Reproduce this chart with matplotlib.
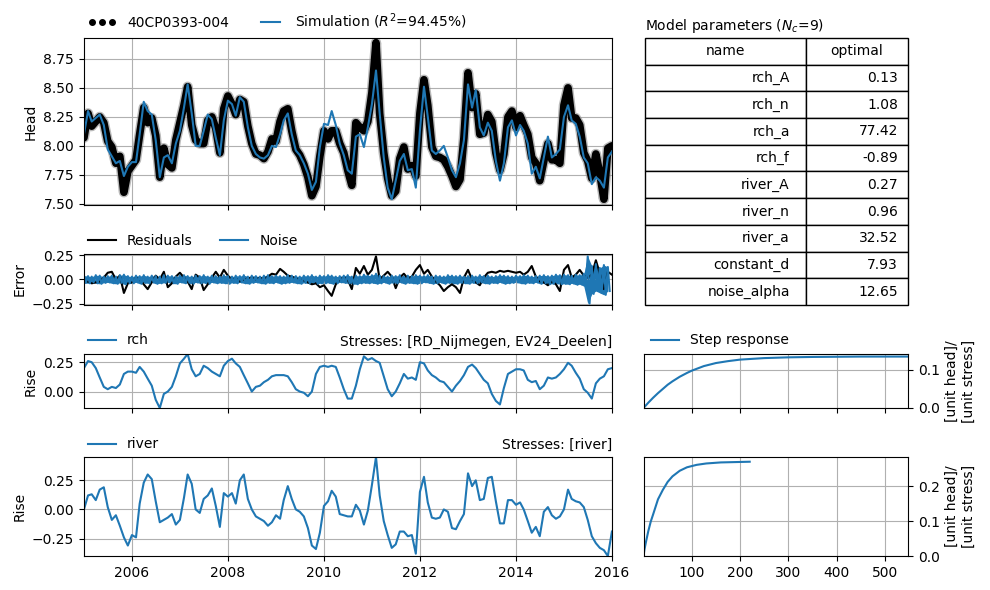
import numpy as np
import pandas as pd
import matplotlib
matplotlib.use("Agg")
import matplotlib.pyplot as plt
import matplotlib.dates as mdates
import matplotlib.patheffects as pe
from matplotlib.lines import Line2D
from matplotlib.ticker import MultipleLocator

plt.rcParams["font.size"] = 10

# -------------------------
# data (monthly)
# -------------------------
months = pd.date_range("2005-01-01", "2016-01-01", freq="MS")
half_months = pd.date_range("2005-01-01", "2015-12-15", freq="SMS")

head_sim = [
    8.10, 8.30, 8.21, 8.24, 8.27, 8.18, 7.97, 7.91, 7.85, 7.87, 7.74, 7.82,
    7.86, 7.86, 8.10, 8.38, 8.30, 8.27, 8.05, 7.73, 7.90, 7.92, 7.85, 8.02,
    8.13, 8.33, 8.53, 8.28, 8.00, 8.00, 8.13, 8.27, 8.23, 8.07, 7.92, 8.22,
    8.39, 8.36, 8.26, 8.42, 8.38, 8.16, 8.00, 7.93, 7.90, 7.89, 7.92, 8.00,
    7.99, 8.10, 8.22, 8.28, 8.10, 7.96, 7.92, 7.85, 7.76, 7.62, 7.69, 7.99,
    8.19, 8.18, 8.30, 8.18, 8.02, 7.92, 7.79, 7.76, 8.08, 8.10, 7.99, 8.16,
    8.36, 8.65, 8.28, 7.90, 7.64, 7.54, 7.70, 7.87, 7.93, 7.79, 7.80, 7.64,
    8.13, 8.51, 8.25, 7.96, 7.93, 7.96, 8.00, 7.90, 7.79, 7.73, 7.85, 8.05,
    8.53, 8.33, 8.48, 8.16, 8.09, 8.20, 8.13, 7.87, 7.70, 7.85, 8.16, 8.22,
    8.09, 8.18, 8.13, 8.02, 7.76, 7.82, 7.72, 7.90, 8.08, 7.90, 7.93, 7.97,
    8.25, 8.35, 8.22, 8.19, 8.08, 7.90, 7.85, 7.67, 7.73, 7.70, 7.64, 7.90,
    7.95,
]

head_obs = [
    8.07, 8.28, 8.17, 8.21, 8.25, 8.20, 8.04, 7.99, 7.85, 7.91, 7.60, 7.78,
    7.83, 7.88, 8.10, 8.33, 8.20, 8.24, 8.09, 7.73, 7.98, 7.84, 7.81, 8.05,
    8.20, 8.35, 8.51, 8.18, 8.05, 8.02, 8.02, 8.22, 8.25, 8.15, 7.94, 8.32,
    8.43, 8.36, 8.27, 8.40, 8.38, 8.17, 8.02, 7.93, 7.92, 7.89, 7.95, 8.06,
    8.04, 8.21, 8.30, 8.32, 8.13, 7.97, 7.92, 7.84, 7.73, 7.57, 7.65, 7.91,
    8.13, 8.06, 8.13, 8.13, 8.02, 7.94, 7.79, 7.66, 8.20, 8.16, 8.13, 8.21,
    8.46, 8.89, 8.28, 7.94, 7.72, 7.57, 7.61, 7.89, 7.99, 7.80, 7.83, 7.74,
    8.28, 8.57, 8.35, 7.99, 7.91, 7.90, 7.88, 7.82, 7.74, 7.65, 7.71, 8.07,
    8.63, 8.33, 8.45, 8.10, 8.11, 8.27, 8.21, 7.94, 7.79, 7.93, 8.25, 8.30,
    8.16, 8.26, 8.18, 8.10, 7.90, 7.85, 7.70, 7.87, 8.02, 7.88, 7.88, 7.85,
    8.35, 8.50, 8.24, 8.24, 8.18, 7.94, 7.87, 7.72, 7.93, 7.76, 7.54, 7.98,
    8.00,
]

# upper / lower swing of the noise series, per month
noise_hi = [
    .04, .035, .03, .045, .04, .03, .035, .04, .03, .045, .05, .035,
    .03, .04, .035, .045, .03, .04, .035, .03, .045, .04, .035, .03,
    .04, .045, .035, .03, .04, .035, .045, .03, .04, .035, .03, .045,
    .035, .03, .04, .035, .045, .03, .04, .035, .03, .04, .045, .035,
    .04, .035, .03, .045, .04, .035, .03, .04, .035, .045, .03, .04,
    .035, .045, .04, .03, .035, .04, .045, .03, .04, .035, .05, .04,
    .045, .06, .04, .035, .03, .04, .035, .045, .03, .04, .035, .045,
    .04, .035, .045, .03, .04, .035, .03, .045, .04, .035, .04, .03,
    .035, .04, .03, .045, .035, .04, .03, .035, .045, .04, .035, .03,
    .04, .035, .045, .04, .03, .035, .04, .045, .035, .04, .05, .045,
    .05, .045, .04, .05, .045, .06, .24, .14, .16, .12, .15, .13,
]
noise_lo = [
    -.035, -.04, -.03, -.04, -.045, -.035, -.03, -.04, -.045, -.035, -.05, -.04,
    -.04, -.03, -.045, -.035, -.04, -.03, -.045, -.04, -.035, -.03, -.04, -.045,
    -.03, -.04, -.035, -.045, -.03, -.04, -.035, -.045, -.03, -.04, -.035, -.04,
    -.045, -.035, -.04, -.03, -.04, -.045, -.035, -.03, -.04, -.045, -.035, -.04,
    -.03, -.045, -.04, -.035, -.03, -.04, -.045, -.035, -.04, -.03, -.045, -.04,
    -.04, -.035, -.045, -.04, -.03, -.035, -.04, -.045, -.05, -.04, -.035, -.04,
    -.035, -.045, -.04, -.03, -.045, -.035, -.04, -.03, -.045, -.035, -.04, -.045,
    -.04, -.03, -.035, -.045, -.04, -.03, -.045, -.035, -.04, -.045, -.035, -.04,
    -.045, -.035, -.04, -.03, -.04, -.045, -.035, -.04, -.03, -.045, -.04, -.035,
    -.03, -.04, -.045, -.035, -.04, -.03, -.045, -.04, -.05, -.045, -.04, -.05,
    -.045, -.05, -.04, -.055, -.05, -.07, -.25, -.15, -.12, -.14, -.16, -.12,
]

rch = [
    0.20, 0.26, 0.25, 0.20, 0.12, 0.04, 0.02, 0.04, 0.03, 0.06, 0.15, 0.17,
    0.17, 0.16, 0.21, 0.17, 0.11, 0.05, -0.07, -0.14, -0.02, 0.00, 0.04, 0.13,
    0.24, 0.28, 0.32, 0.19, 0.13, 0.15, 0.22, 0.20, 0.17, 0.15, 0.13, 0.22,
    0.26, 0.28, 0.24, 0.21, 0.14, 0.07, 0.00, 0.04, 0.05, 0.08, 0.10, 0.13,
    0.14, 0.14, 0.14, 0.13, 0.08, 0.02, 0.00, -0.01, -0.04, 0.00, 0.15, 0.21,
    0.22, 0.21, 0.22, 0.21, 0.12, 0.02, -0.06, -0.06, 0.05, 0.19, 0.30, 0.27,
    0.285, 0.26, 0.245, 0.13, 0.02, -0.04, 0.00, 0.07, 0.15, 0.11, 0.12, 0.10,
    0.25, 0.24, 0.18, 0.14, 0.12, 0.09, 0.08, 0.04, 0.00, 0.05, 0.09, 0.14,
    0.21, 0.23, 0.20, 0.15, 0.10, 0.07, -0.02, -0.08, -0.11, 0.03, 0.15, 0.17,
    0.19, 0.19, 0.18, 0.10, 0.08, 0.09, 0.02, 0.05, 0.12, 0.11, 0.12, 0.15,
    0.19, 0.245, 0.22, 0.16, 0.11, 0.02, -0.01, -0.06, 0.07, 0.11, 0.13, 0.19,
    0.20,
]

river = [
    0.00, 0.12, 0.13, 0.08, 0.17, 0.19, 0.02, -0.09, -0.05, -0.14, -0.24, -0.31,
    -0.22, -0.24, 0.05, 0.23, 0.30, 0.26, 0.07, -0.11, -0.09, -0.07, -0.04, -0.13,
    -0.09, 0.10, 0.30, 0.22, 0.00, -0.03, 0.09, 0.12, 0.18, 0.03, -0.15, 0.14,
    0.11, 0.14, 0.05, 0.25, 0.30, 0.09, 0.00, -0.06, -0.08, -0.10, -0.14, -0.11,
    -0.05, -0.08, 0.08, 0.20, 0.09, 0.00, -0.02, -0.06, -0.16, -0.31, -0.34, -0.20,
    0.03, 0.07, 0.16, 0.11, -0.04, -0.05, -0.06, -0.06, 0.04, -0.01, -0.13, -0.01,
    0.21, 0.45, 0.12, -0.10, -0.22, -0.33, -0.30, -0.19, -0.19, -0.23, -0.22, -0.38,
    0.15, 0.28, 0.06, -0.07, -0.08, -0.07, 0.00, -0.02, -0.16, -0.17, -0.10, -0.04,
    0.31, 0.20, 0.25, 0.08, 0.09, 0.27, 0.28, 0.07, -0.12, -0.12, 0.08, 0.08,
    0.04, 0.06, 0.00, -0.10, -0.20, -0.15, -0.23, -0.02, 0.02, -0.05, -0.08, -0.06,
    0.00, 0.17, 0.09, 0.07, 0.06, 0.02, -0.09, -0.23, -0.29, -0.33, -0.35, -0.40,
    -0.19,
]

rch_step_t = [0, 5, 10, 20, 30, 40, 50, 60, 75, 90, 100, 125, 150, 175, 200,
              250, 300, 350, 400, 450, 500, 548]
rch_step = [0.0, 0.007, 0.014, 0.027, 0.039, 0.050, 0.061, 0.070, 0.082, 0.092,
            0.098, 0.110, 0.118, 0.123, 0.127, 0.131, 0.133, 0.134, 0.1345,
            0.135, 0.135, 0.135]

river_step_t = [0, 2, 5, 10, 15, 20, 30, 40, 50, 60, 75, 90, 110, 130, 160, 190, 220]
river_step = [0.0, 0.019, 0.040, 0.072, 0.099, 0.120, 0.163, 0.190, 0.213, 0.229,
              0.245, 0.255, 0.262, 0.266, 0.269, 0.270, 0.271]

param_names = ["rch_A", "rch_n", "rch_a", "rch_f", "river_A", "river_n",
               "river_a", "constant_d", "noise_alpha"]
param_optimal = ["0.13", "1.08", "77.42", "-0.89", "0.27", "0.96",
                 "32.52", "7.93", "12.65"]

residuals = np.array(head_obs) - np.array(head_sim)
noise = np.column_stack([noise_hi, noise_lo]).ravel()

blue = "#1f77b4"
x0, x1 = pd.Timestamp("2005-01-01"), pd.Timestamp("2016-01-01")

# -------------------------
# layout
# -------------------------
fig = plt.figure(figsize=(9.9, 5.9), dpi=100)
L, W = 0.0848, 0.5333
ax_head = fig.add_axes([L, 0.6525, W, 0.2831])
ax_err = fig.add_axes([L, 0.4831, W, 0.0864], sharex=ax_head)
ax_rch = fig.add_axes([L, 0.3085, W, 0.0915], sharex=ax_head)
ax_riv = fig.add_axes([L, 0.0576, W, 0.1678], sharex=ax_head)
ax_tab = fig.add_axes([0.6515, 0.4831, 0.2657, 0.4525])
ax_s1 = fig.add_axes([0.6505, 0.3085, 0.2667, 0.0915])
ax_s2 = fig.add_axes([0.6505, 0.0576, 0.2667, 0.1678], sharex=ax_s1)

# -------------------------
# head
# -------------------------
ax_head.plot(months, head_obs, color="k", lw=5.5, solid_joinstyle="round",
             solid_capstyle="round",
             path_effects=[pe.Stroke(linewidth=7.5, foreground="0.55", alpha=0.6),
                           pe.Normal()])
sim_line, = ax_head.plot(months, head_sim, color=blue, lw=1.5)
obs_proxy = Line2D([], [], color="k", marker="o", ms=4, ls="")
ax_head.legend([obs_proxy, sim_line],
               ["40CP0393-004", "Simulation ($R^2$=94.45%)"],
               loc="lower left", bbox_to_anchor=(-0.016, 0.965), ncol=2,
               frameon=False, numpoints=3)
ax_head.set_ylim(7.49, 8.93)
ax_head.yaxis.set_major_locator(MultipleLocator(0.25))
ax_head.set_ylabel("Head")

# -------------------------
# residuals / noise
# -------------------------
ax_err.plot(months, residuals, color="k", lw=1.5, label="Residuals")
ax_err.fill_between(months[:-1], noise_lo, noise_hi, color=blue, lw=0)
ax_err.plot(half_months, noise, color=blue, lw=1.5, label="Noise")
ax_err.legend(loc="lower left", bbox_to_anchor=(-0.016, 0.88), ncol=2, frameon=False)
ax_err.set_ylim(-0.265, 0.265)
ax_err.yaxis.set_major_locator(MultipleLocator(0.25))
ax_err.set_ylabel("Error")

# -------------------------
# contributions
# -------------------------
ax_rch.plot(months, rch, color=blue, lw=1.5, label="rch")
ax_rch.legend(loc="lower left", bbox_to_anchor=(-0.016, 0.89), frameon=False)
ax_rch.set_title("Stresses: [RD_Nijmegen, EV24_Deelen]", loc="right", fontsize=10)
ax_rch.set_ylim(min(rch), max(rch))
ax_rch.yaxis.set_major_locator(MultipleLocator(0.25))
ax_rch.set_ylabel("Rise")

ax_riv.plot(months, river, color=blue, lw=1.5, label="river")
ax_riv.legend(loc="lower left", bbox_to_anchor=(-0.016, 0.93), frameon=False)
ax_riv.set_title("Stresses: [river]", loc="right", fontsize=10)
ax_riv.set_ylim(min(river), max(river))
ax_riv.yaxis.set_major_locator(MultipleLocator(0.25))
ax_riv.set_ylabel("Rise")

for ax in (ax_head, ax_err, ax_rch, ax_riv):
    ax.grid(True)
    ax.set_xlim(x0, x1)
    ax.xaxis.set_major_locator(mdates.YearLocator(2))
    ax.xaxis.set_major_formatter(mdates.DateFormatter("%Y"))
for ax in (ax_head, ax_err, ax_rch):
    ax.tick_params(labelbottom=False)

# -------------------------
# step responses
# -------------------------
ax_s1.plot(rch_step_t, rch_step, color=blue, lw=1.5, label="Step response")
ax_s1.legend(loc="lower left", bbox_to_anchor=(-0.021, 0.89), frameon=False)
ax_s2.plot(river_step_t, river_step, color=blue, lw=1.5)
for ax in (ax_s1, ax_s2):
    ax.grid(True)
    ax.set_xlim(1, 548)
    ax.set_ylim(bottom=0)
    ax.xaxis.set_major_locator(MultipleLocator(100))
    ax.yaxis.set_major_locator(MultipleLocator(0.1))
    ax.yaxis.tick_right()
    ax.yaxis.set_label_position("right")
    ax.set_ylabel("[unit head]/\n[unit stress]")
ax_s1.tick_params(labelbottom=False)

# -------------------------
# parameter table
# -------------------------
ax_tab.axis("off")
ax_tab.set_title("Model parameters ($N_c$=9)", loc="left", fontsize=10)
tbl = ax_tab.table(cellText=[[n, v] for n, v in zip(param_names, param_optimal)],
                   colLabels=["name", "optimal"], cellLoc="right", colLoc="center",
                   colWidths=[0.612, 0.388], bbox=[0, 0, 1, 1])
tbl.auto_set_font_size(False)
tbl.set_fontsize(10)

fig.savefig("out.png", dpi=100)
